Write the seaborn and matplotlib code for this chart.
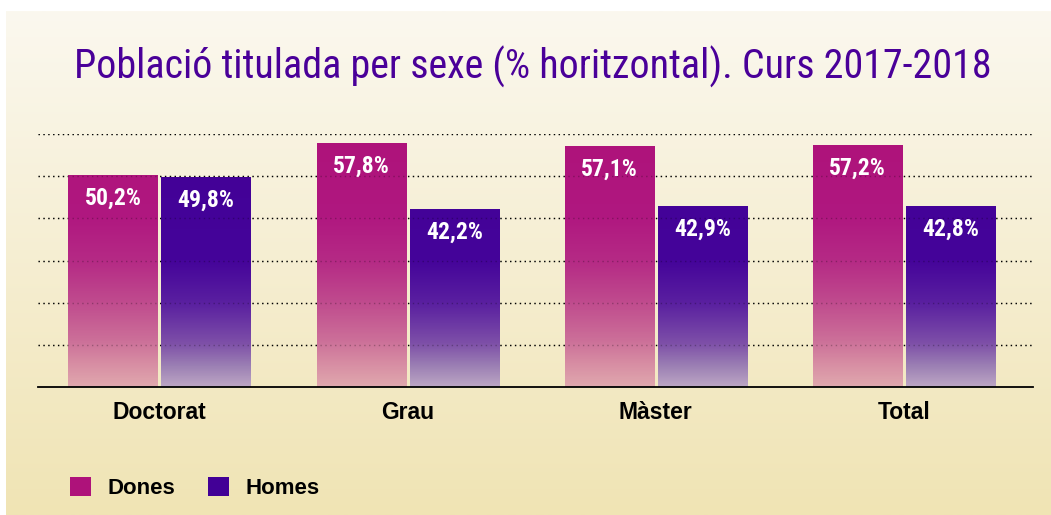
import numpy as np
import pandas as pd
import matplotlib
matplotlib.use('Agg')
import matplotlib.pyplot as plt
import seaborn as sns
from matplotlib.colors import LinearSegmentedColormap, to_rgb

categories = ['Doctorat', 'Grau', 'Màster', 'Total']
dones = [50.2, 57.8, 57.1, 57.2]
homes = [49.8, 42.2, 42.9, 42.8]
series = ['Dones', 'Homes']
title = 'Població titulada per sexe (% horitzontal). Curs 2017-2018'

df = pd.DataFrame({
    'cat': categories * 2,
    'sexe': ['Dones'] * 4 + ['Homes'] * 4,
    'val': dones + homes,
})

narrow = ['Roboto Condensed', 'DejaVu Sans']
sans = ['Liberation Sans', 'DejaVu Sans']

sns.set_style('white')
plt.rcParams['font.family'] = sans

solid = {'Dones': '#ae127a', 'Homes': '#420096'}
# gradients follow the absolute height on the axis (0..60)
cmaps = {
    'Dones': LinearSegmentedColormap.from_list('d', [
        (0.0, '#e0a8ae'), (0.1, '#d68aa2'), (0.18, '#cc7099'), (0.33, '#c04c8e'),
        (0.5, '#b52a85'), (0.67, '#b01880'), (1.0, '#ae127a')]),
    'Homes': LinearSegmentedColormap.from_list('h', [
        (0.0, '#bca6c4'), (0.08, '#9c80b4'), (0.17, '#7e50a8'), (0.33, '#5a20a0'),
        (0.5, '#45049a'), (1.0, '#420096')]),
}

fig = plt.figure(figsize=(10.51, 5.15), dpi=100)
fig.patch.set_facecolor('white')

# background panel with soft vertical gradient
bg = fig.add_axes([6 / 1051, 0, 1 - 6 / 1051, (515 - 11) / 515], zorder=-5)
top_c, bot_c = np.array(to_rgb('#fbf8ef')), np.array(to_rgb('#f0e4b4'))
t = np.linspace(0, 1, 256)[:, None]
bg.imshow((top_c * (1 - t) + bot_c * t)[:, None, :], aspect='auto', extent=[0, 1, 0, 1])
bg.set_axis_off()

ax = fig.add_axes([38 / 1051, (515 - 387) / 515, (1033 - 38) / 1051, (387 - 134) / 515])
ax.set_facecolor('none')

sns.barplot(data=df, x='cat', y='val', hue='sexe', hue_order=series,
            palette=solid, width=0.75, gap=0.04, ax=ax, legend=True)

ax.set_ylim(0, 60)
ax.set_xlim(-0.49, 3.52)
xl, yl = ax.get_xlim(), ax.get_ylim()

ax.set_yticks(range(10, 61, 10))
ax.yaxis.grid(True, color='black', linestyle=(0, (1, 2.5)), linewidth=1)
ax.set_axisbelow(True)

n = len(categories)
for i, p in enumerate(ax.patches[:2 * n]):
    s = series[i // n]
    x, w, h = p.get_x(), p.get_width(), p.get_height()
    yy = np.linspace(0, h, 300) / 60
    img = cmaps[s](yy)[:, None, :]
    ax.imshow(img, extent=[x, x + w, 0, h], origin='lower', aspect='auto', zorder=2)
    p.set_visible(False)
    ax.annotate(f'{h:.1f}%'.replace('.', ','), (x + w / 2, h), xytext=(0, -16.5),
                textcoords='offset points', ha='center', va='center', color='white',
                fontsize=17, fontweight='bold', family=narrow, zorder=4)

# faint grid through the bars
for yv in range(10, 61, 10):
    ax.axhline(yv, color='black', linestyle=(0, (1, 2.5)), linewidth=1, alpha=0.25, zorder=3)

ax.set_xlim(xl)
ax.set_ylim(yl)

for sp in ['left', 'right', 'top']:
    ax.spines[sp].set_visible(False)
ax.spines['bottom'].set_color('black')
ax.spines['bottom'].set_linewidth(1.3)
ax.spines['bottom'].set_zorder(5)

ax.set_xlabel('')
ax.set_ylabel('')
ax.set_yticklabels([])
ax.tick_params(axis='y', length=0)
ax.tick_params(axis='x', length=0, pad=10)
for lab in ax.get_xticklabels():
    lab.set_fontsize(16.5)
    lab.set_fontweight('bold')
    lab.set_color('black')

handles, labels = ax.get_legend_handles_labels()
ax.get_legend().remove()
for hnd, s in zip(handles, labels):
    hnd.set_facecolor(solid[s])
    hnd.set_edgecolor('none')
fig.legend(handles, labels, loc='center left', bbox_to_anchor=(50 / 1051, 1 - 488 / 515),
           ncol=2, frameon=False, handlelength=0.95, handleheight=0.95, labelcolor='black',
           handletextpad=0.75, columnspacing=1.45, prop={'weight': 'bold', 'size': 16})

fig.text(533 / 1051, 1 - 67 / 515, title, ha='center', va='center', color='#4a0099',
         fontsize=28.8, family=narrow)

fig.savefig('out.png', dpi=100)
